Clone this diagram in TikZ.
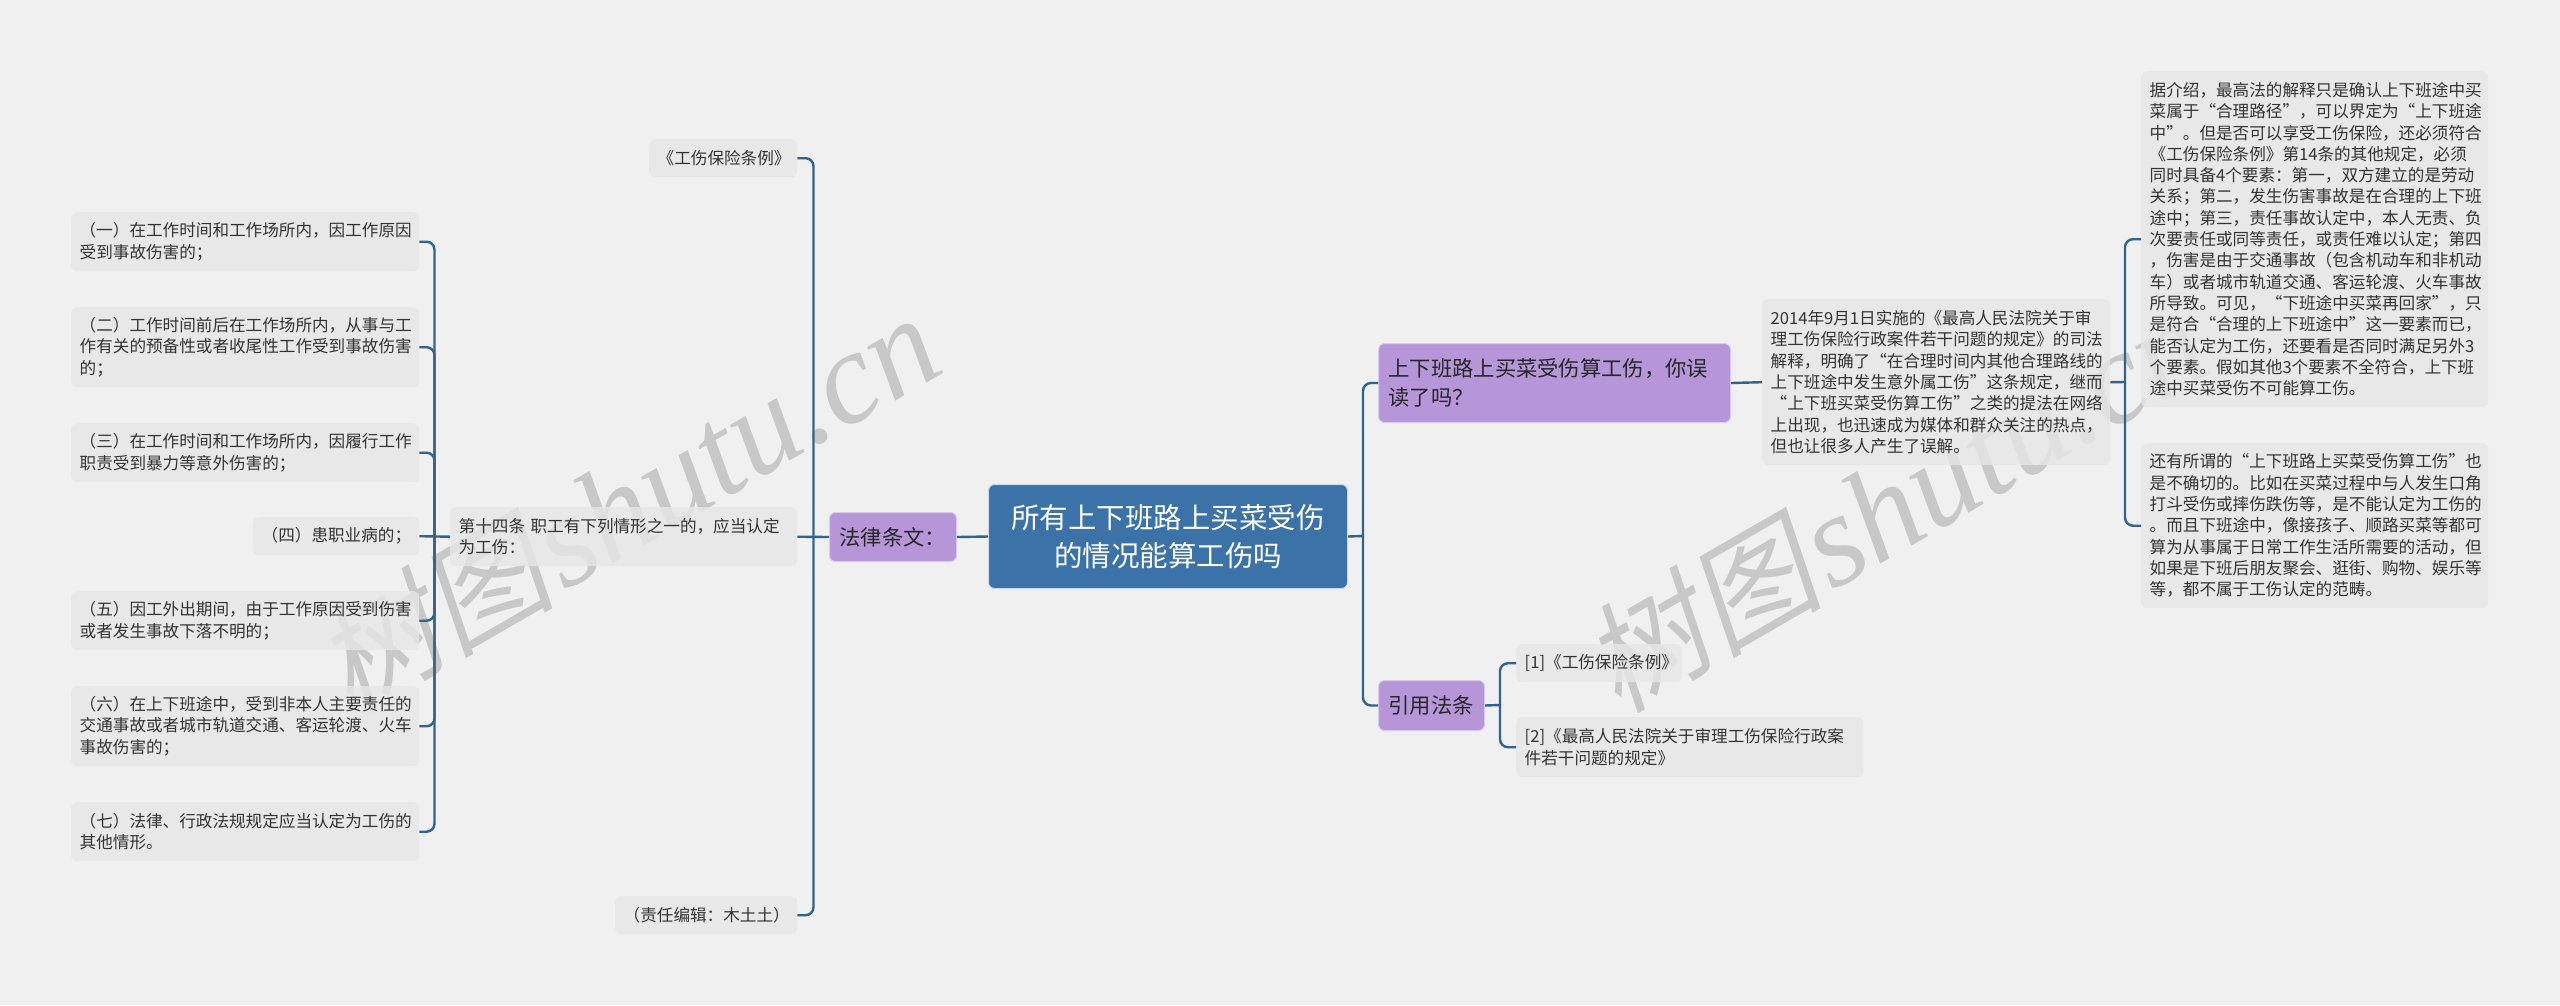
\documentclass[tikz,border=0pt]{standalone}
\usepackage{fontspec}
\setmainfont{Noto Sans CJK SC}
\newfontfamily\wmcjk[FakeSlant=0.2]{Noto Sans CJK SC}
\newfontfamily\wmlat{Liberation Serif}
\definecolor{pagebg}{HTML}{F0F0F0}
\definecolor{boxfill}{HTML}{E7E7E7}
\definecolor{lilac}{HTML}{B696D9}
\definecolor{lilacedge}{HTML}{D9CBEC}
\definecolor{rootblue}{HTML}{3B72A8}
\definecolor{rootedge}{HTML}{C9D9E8}
\definecolor{wire}{HTML}{2F6490}
\definecolor{ink}{HTML}{333333}
\definecolor{wmgray}{HTML}{C8C8C8}
\tikzset{
  graybox/.style={anchor=north west,fill=boxfill,fill opacity=0.8,text opacity=1,rounded corners=6pt,
    inner xsep=8.5pt,inner ysep=0pt,align=left,text=ink,font=\fontsize{16.6}{21.3}\selectfont},
  lilacbox/.style={anchor=north west,fill=lilac,draw=lilacedge,line width=1pt,rounded corners=6pt,
    inner xsep=10pt,inner ysep=0pt,align=left,text=black!85,font=\fontsize{21.3}{28.5}\selectfont},
  rootbox/.style={anchor=north west,fill=rootblue,draw=rootedge,line width=1pt,rounded corners=6pt,
    inner xsep=8pt,inner ysep=0pt,align=center,text=white,font=\fontsize{28.5}{38}\selectfont},
  wire line/.style={draw=wire,line width=2.4pt},
  bend line/.style={wire line,rounded corners=8pt},
  wmark/.style={anchor=base west,rotate=30,text=wmgray,inner sep=0pt},
}
\begin{document}
\begin{tikzpicture}[x=1pt,y=-1pt]
\useasboundingbox[fill=pagebg] (0,0) rectangle (2560,1005);
% watermarks
\node[wmark,font=\wmcjk\fontsize{120}{120}\selectfont] (wa) at (350,715) {树图};
\node[wmark,font=\wmlat\itshape\fontsize{132}{132}\selectfont] (wb) at (564,592) {shutu.cn};
\node[wmark,font=\wmcjk\fontsize{120}{120}\selectfont] (wc) at (1618,715) {树图};
\node[wmark,font=\wmlat\itshape\fontsize{132}{132}\selectfont] (wd) at (1832,592) {shutu.cn};
% far left
\node[graybox,text width=331pt,minimum height=59pt] (c1) at (71,212) {（一）在工作时间和工作场所内，因工作原因\\受到事故伤害的；};
\node[graybox,text width=331pt,minimum height=80pt] (c2) at (71,307) {（二）工作时间前后在工作场所内，从事与工\\作有关的预备性或者收尾性工作受到事故伤害\\的；};
\node[graybox,text width=331pt,minimum height=59pt] (c3) at (71,423) {（三）在工作时间和工作场所内，因履行工作\\职责受到暴力等意外伤害的；};
\node[graybox,text width=149pt,minimum height=38pt] (c4) at (253,517) {（四）患职业病的；};
\node[graybox,text width=331pt,minimum height=59pt] (c5) at (71,591) {（五）因工外出期间，由于工作原因受到伤害\\或者发生事故下落不明的；};
\node[graybox,text width=331pt,minimum height=80pt] (c6) at (71,686) {（六）在上下班途中，受到非本人主要责任的\\交通事故或者城市轨道交通、客运轮渡、火车\\事故伤害的；};
\node[graybox,text width=331pt,minimum height=59pt] (c7) at (71,802) {（七）法律、行政法规规定应当认定为工伤的\\其他情形。};
% left middle
\node[graybox,text width=330pt,minimum height=59pt] (art) at (450,507) {第十四条 职工有下列情形之一的，应当认定\\为工伤：};
\node[graybox,text width=131pt,minimum height=38pt] (reg) at (649,139) {《工伤保险条例》};
\node[graybox,text width=165pt,minimum height=38pt] (edit) at (615,896) {（责任编辑：木土土）};
% centre
\node[lilacbox,text width=107pt,minimum height=49pt] (law) at (829,512) {法律条文：};
\node[rootbox,text width=343pt,minimum height=104pt] (root) at (988,484) {所有上下班路上买菜受伤\\的情况能算工伤吗};
\node[lilacbox,text width=332pt,minimum height=79pt] (q) at (1378,343) {上下班路上买菜受伤算工伤，你误\\读了吗？};
\node[lilacbox,text width=86pt,minimum height=50pt] (cite) at (1378,680) {引用法条};
% citations
\node[graybox,text width=149pt,minimum height=38pt] (r1) at (1516,644) {[1]《工伤保险条例》};
\node[graybox,text width=330pt,minimum height=60pt] (r2) at (1516,717) {[2]《最高人民法院关于审理工伤保险行政案\\件若干问题的规定》};
% right
\node[graybox,text width=331pt,minimum height=166pt] (intro) at (1762,299) {2014年9月1日实施的《最高人民法院关于审\\理工伤保险行政案件若干问题的规定》的司法\\解释，明确了“在合理时间内其他合理路线的\\上下班途中发生意外属工伤”这条规定，继而\\“上下班买菜受伤算工伤”之类的提法在网络\\上出现，也迅速成为媒体和群众关注的热点，\\但也让很多人产生了误解。};
\node[graybox,text width=330pt,minimum height=336pt] (d1) at (2141,71) {据介绍，最高法的解释只是确认上下班途中买\\菜属于“合理路径”，可以界定为“上下班途\\中”。但是否可以享受工伤保险，还必须符合\\《工伤保险条例》第14条的其他规定，必须\\同时具备4个要素：第一，双方建立的是劳动\\关系；第二，发生伤害事故是在合理的上下班\\途中；第三，责任事故认定中，本人无责、负\\次要责任或同等责任，或责任难以认定；第四\\，伤害是由于交通事故（包含机动车和非机动\\车）或者城市轨道交通、客运轮渡、火车事故\\所导致。可见，“下班途中买菜再回家”，只\\是符合“合理的上下班途中”这一要素而已，\\能否认定为工伤，还要看是否同时满足另外3\\个要素。假如其他3个要素不全符合，上下班\\途中买菜受伤不可能算工伤。};
\node[graybox,text width=330pt,minimum height=165pt] (d2) at (2141,443) {还有所谓的“上下班路上买菜受伤算工伤”也\\是不确切的。比如在买菜过程中与人发生口角\\打斗受伤或摔伤跌伤等，是不能认定为工伤的\\。而且下班途中，像接孩子、顺路买菜等都可\\算为从事属于日常工作生活所需要的活动，但\\如果是下班后朋友聚会、逛街、购物、娱乐等\\等，都不属于工伤认定的范畴。};
% junctions
\coordinate (jc) at (434.5,536.5);
\coordinate (jl) at (813.5,536.5);
\coordinate (jr) at (1363,536);
\coordinate (jk) at (1500,705);
\coordinate (jd) at (2125,382);
% connectors
\foreach \n in {c1,c2,c3,c5,c6,c7} \draw[bend line] (\n.east) -| (jc);
\draw[wire line] (c4.east) -- (art.west);
\draw[wire line] (art.east) -- (law.west);
\draw[bend line] (reg.east) -| (jl);
\draw[bend line] (edit.east) -| (jl);
\draw[wire line] (law.east) -- (root.west);
\draw[wire line] (root.east) -- (jr);
\draw[bend line] (q.west) -| (jr);
\draw[bend line] (cite.west) -| (jr);
\draw[wire line] (cite.east) -- (jk);
\draw[bend line] (r1.west) -| (jk);
\draw[bend line] (r2.west) -| (jk);
\draw[wire line] (q.east) -- (intro.west);
\draw[wire line] (intro.east) -- (jd);
\draw[bend line] (d1.west) -| (jd);
\draw[bend line] (d2.west) -| (jd);
\end{tikzpicture}
\end{document}
